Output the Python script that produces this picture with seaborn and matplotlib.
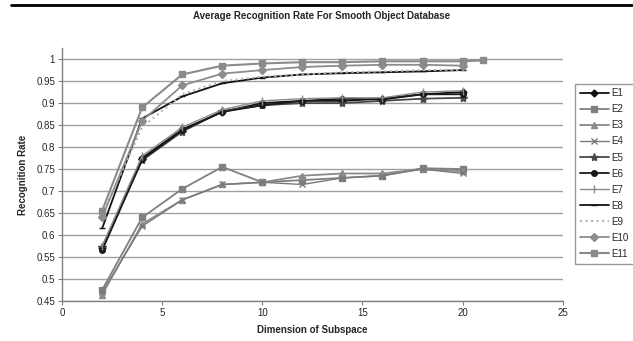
import numpy as np
import pandas as pd
import seaborn as sns
from matplotlib import pyplot as plt
from matplotlib.lines import Line2D

dims = [2, 4, 6, 8, 10, 12, 14, 16, 18, 20]
dims_e11 = [2, 4, 6, 8, 10, 12, 14, 16, 18, 20, 21]

E1 = [0.570, 0.775, 0.840, 0.880, 0.900, 0.905, 0.905, 0.910, 0.920, 0.925]
E2 = [0.475, 0.640, 0.705, 0.755, 0.720, 0.725, 0.730, 0.735, 0.752, 0.750]
E3 = [0.465, 0.625, 0.680, 0.715, 0.720, 0.735, 0.740, 0.740, 0.750, 0.745]
E4 = [0.470, 0.620, 0.680, 0.715, 0.720, 0.715, 0.730, 0.735, 0.750, 0.740]
E5 = [0.572, 0.770, 0.835, 0.882, 0.895, 0.900, 0.900, 0.905, 0.910, 0.912]
E6 = [0.565, 0.772, 0.838, 0.880, 0.895, 0.905, 0.910, 0.908, 0.920, 0.920]
E7 = [0.575, 0.780, 0.845, 0.885, 0.905, 0.910, 0.912, 0.912, 0.925, 0.928]
E8 = [0.615, 0.865, 0.915, 0.945, 0.958, 0.965, 0.968, 0.970, 0.972, 0.975]
E9 = [0.645, 0.845, 0.920, 0.950, 0.960, 0.965, 0.970, 0.972, 0.975, 0.975]
E10 = [0.640, 0.860, 0.940, 0.967, 0.975, 0.982, 0.985, 0.987, 0.987, 0.985]
E11 = [0.655, 0.890, 0.965, 0.985, 0.990, 0.993, 0.993, 0.995, 0.995, 0.995, 0.997]

series = {'E1': (dims, E1), 'E2': (dims, E2), 'E3': (dims, E3), 'E4': (dims, E4),
          'E5': (dims, E5), 'E6': (dims, E6), 'E7': (dims, E7), 'E8': (dims, E8),
          'E9': (dims, E9), 'E10': (dims, E10), 'E11': (dims_e11, E11)}

# colour, marker, marker size, line style, line width
styles = {
    'E1': ('#111111', 'D', 3.5, '-', 1.3),
    'E2': ('#808080', 's', 4.5, '-', 1.3),
    'E3': ('#8a8a8a', '^', 4.5, '-', 1.3),
    'E4': ('#7a7a7a', 'x', 4.5, '-', 1.0),
    'E5': ('#4a4a4a', '*', 6, '-', 1.3),
    'E6': ('#1a1a1a', 'o', 4, '-', 1.3),
    'E7': ('#8c8c8c', '|', 6, '-', 1.0),
    'E8': ('#111111', '_', 5, '-', 1.3),
    'E9': ('#b4b4b4', '', 0, ':', 1.5),
    'E10': ('#8c8c8c', 'D', 4, '-', 1.3),
    'E11': ('#8a8a8a', 's', 5, '-', 1.5),
}

rows = []
for name, (xs, ys) in series.items():
    for xv, yv in zip(xs, ys):
        rows.append({'dim': xv, 'rate': yv, 'series': name})
df = pd.DataFrame(rows)

sns.set_style('white')
plt.rcParams['font.family'] = ['Liberation Sans', 'DejaVu Sans']

fig = plt.figure(figsize=(6.33, 3.41), dpi=100)
ax = fig.add_axes([0.098, 0.117, 0.791, 0.742])

handles = []
for name in series:
    c, m, ms, ls, lw = styles[name]
    sub = df[df['series'] == name]
    sns.lineplot(data=sub, x='dim', y='rate', color=c, marker=m if m else None,
                 markersize=ms, linestyle=ls, linewidth=lw, markeredgecolor=c,
                 markeredgewidth=1.0, ax=ax, legend=False, zorder=3)
    handles.append(Line2D([], [], color=c, marker=m if m else None, markersize=ms,
                          linestyle=ls, linewidth=lw, markeredgecolor=c, label=name))

ax.set_xlim(0, 25)
ax.set_ylim(0.45, 1.025)
ax.set_xticks([0, 5, 10, 15, 20, 25])
ax.set_yticks(np.arange(0.45, 1.001, 0.05))
ax.set_yticklabels(['0.45', '0.5', '0.55', '0.6', '0.65', '0.7', '0.75', '0.8',
                    '0.85', '0.9', '0.95', '1'])
ax.yaxis.grid(True, color='#a0a0a0', linewidth=1.0)
ax.set_axisbelow(True)
for s in ['top', 'right']:
    ax.spines[s].set_visible(False)
for s in ['left', 'bottom']:
    ax.spines[s].set_color('#808080')
    ax.spines[s].set_linewidth(1.0)
ax.tick_params(axis='both', labelsize=7, length=3, color='#808080', direction='out',
               left=True, bottom=True, pad=2)
ax.set_xlabel('Dimension of Subspace', fontsize=7, fontweight='bold', labelpad=5)
ax.set_ylabel('Recognition Rate', fontsize=7, fontweight='bold', labelpad=6)

fig.text(0.508, 0.953, 'Average Recognition Rate For Smooth Object Database',
         ha='center', va='center', fontsize=7, fontweight='bold')
fig.add_artist(Line2D([0.018, 1.0], [0.984, 0.984], color='black', linewidth=2.0,
                      transform=fig.transFigure))

leg = fig.legend(handles=handles, loc='upper left', bbox_to_anchor=(0.908, 0.755),
                 fontsize=7, frameon=True, fancybox=False, handlelength=3.0,
                 handletextpad=0.3, labelspacing=0.62, borderpad=0.5,
                 borderaxespad=0)
leg.get_frame().set_edgecolor('#808080')
leg.get_frame().set_linewidth(1.0)

fig.savefig('out.png', dpi=100)
